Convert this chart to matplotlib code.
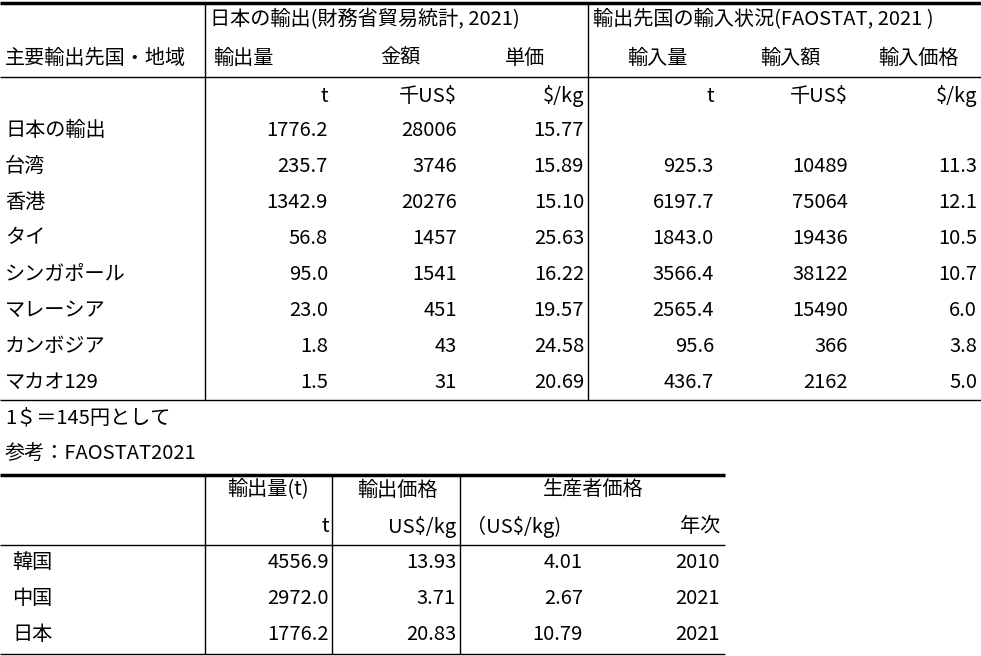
import matplotlib
matplotlib.use("Agg")
import matplotlib.pyplot as plt

plt.rcParams['font.family'] = ['Noto Sans CJK JP', 'DejaVu Sans']

regions = ["日本の輸出", "台湾", "香港", "タイ", "シンガポール", "マレーシア", "カンボジア", "マカオ129"]
exp_qty = ["1776.2", "235.7", "1342.9", "56.8", "95.0", "23.0", "1.8", "1.5"]
exp_val = ["28006", "3746", "20276", "1457", "1541", "451", "43", "31"]
exp_price = ["15.77", "15.89", "15.10", "25.63", "16.22", "19.57", "24.58", "20.69"]
imp_qty = ["", "925.3", "6197.7", "1843.0", "3566.4", "2565.4", "95.6", "436.7"]
imp_val = ["", "10489", "75064", "19436", "38122", "15490", "366", "2162"]
imp_price = ["", "11.3", "12.1", "10.5", "10.7", "6.0", "3.8", "5.0"]

countries = ["韓国", "中国", "日本"]
c_exp_qty = ["4556.9", "2972.0", "1776.2"]
c_exp_price = ["13.93", "3.71", "20.83"]
c_prod_price = ["4.01", "2.67", "10.79"]
c_year = ["2010", "2021", "2021"]

fig = plt.figure(figsize=(9.81, 6.56), dpi=100)
ax = fig.add_axes([0, 0, 1, 1])
ax.set_xlim(0, 981)
ax.set_ylim(656, 0)
ax.axis('off')
fs = 14.5

def t(x, y, s, ha='left'):
    ax.text(x, y, s, ha=ha, va='center', fontsize=fs, color='black')

def hl(y, x0, x1, lw=1.0):
    ax.plot([x0, x1], [y, y], color='black', lw=lw, solid_capstyle='butt')

def vl(x, y0, y1, lw=1.0):
    ax.plot([x, x], [y0, y1], color='black', lw=lw, solid_capstyle='butt')

# top table lines
hl(3, 0, 981, 2.5)
hl(77, 0, 981)
hl(400, 0, 981)
vl(205, 3, 400)
vl(588, 3, 400)

t(210, 20, "日本の輸出(財務省貿易統計, 2021)")
t(593, 20, "輸出先国の輸入状況(FAOSTAT, 2021 )")
t(5, 58, "主要輸出先国・地域")
t(213, 58, "輸出量")
t(400, 58, "金額", 'center')
t(525, 58, "単価", 'center')
t(657, 58, "輸入量", 'center')
t(790, 58, "輸入額", 'center')
t(918, 58, "輸入価格", 'center')

units = ["t", "千US$", "$/kg", "t", "千US$", "$/kg"]
rx = [328, 457, 584, 714, 848, 977]
for u, x in zip(units, rx):
    t(x, 96, u, 'right')

cols = [exp_qty, exp_val, exp_price, imp_qty, imp_val, imp_price]
for i, r in enumerate(regions):
    y = 130 + 36 * i
    t(5, y, r)
    for c, x in zip(cols, rx):
        if c[i]:
            t(x, y, c[i], 'right')

t(5, 418, "1＄＝145円として")
t(5, 454, "参考：FAOSTAT2021")

# bottom table
hl(475, 0, 725, 2.5)
hl(545, 0, 725)
hl(654, 0, 725)
for x in [205, 332, 460]:
    vl(x, 475, 654)

t(268, 490, "輸出量(t)", 'center')
t(397, 490, "輸出価格", 'center')
t(593, 490, "生産者価格", 'center')
t(329, 527, "t", 'right')
t(456, 527, "US$/kg", 'right')
t(466, 527, "（US$/kg)")
t(720, 527, "年次", 'right')

bx = [329, 456, 583, 720]
bcols = [c_exp_qty, c_exp_price, c_prod_price, c_year]
for i, c in enumerate(countries):
    y = 563 + 36 * i
    t(12, y, c)
    for col, x in zip(bcols, bx):
        t(x, y, col[i], 'right')

fig.savefig("out.png", dpi=100)
